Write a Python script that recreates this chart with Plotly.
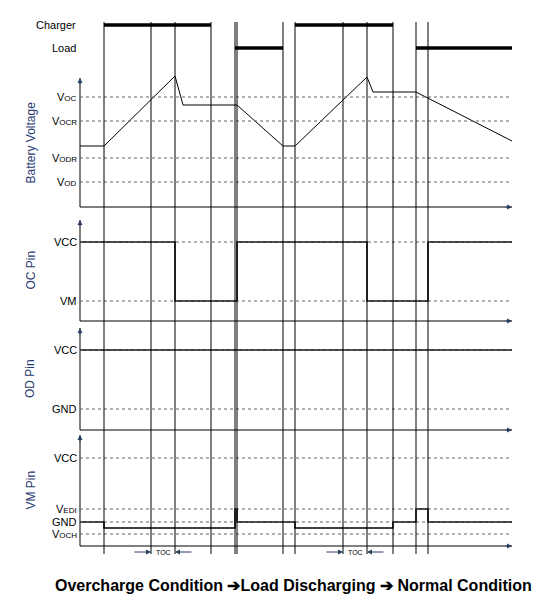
import plotly.graph_objects as go

# event times (pixel-like time axis)
edges = [104, 151, 175, 211, 235, 237, 283, 295, 343, 367, 393, 416, 428]
t_start, t_end = 80, 512

# battery voltage panel
bat_levels = {"OC": 97, "OCR": 121, "ODR": 158, "OD": 182}
bat_t = [80, 104, 175, 183, 237, 283, 295, 367, 373, 416, 512]
bat_v = [146, 146, 76, 105, 105, 146, 146, 77, 92, 92, 141]

# charger / load bars
charger_on = [(104, 211), (295, 393)]
load_on = [(235, 283), (416, 512)]

# OC pin
oc_levels = {"VCC": 242, "VM": 301}
oc_t = [80, 175, 175, 237, 237, 367, 367, 428, 428, 512]
oc_v = [242, 242, 301, 301, 242, 242, 301, 301, 242, 242]

# OD pin
od_levels = {"VCC": 350, "GND": 409}
od_t = [80, 512]
od_v = [350, 350]

# VM pin
vm_t = [80, 104, 104, 235, 235, 237, 237, 295, 295, 393, 393, 416, 416, 428, 428, 512]
vm_v = [522, 522, 528, 528, 509, 509, 522, 522, 528, 528, 522, 522, 509, 509, 522, 522]

panels = [(78, 207, "Battery Voltage"), (220, 321, "OC Pin"), (328, 430, "OD Pin"), (435, 546, "VM Pin")]

fig = go.Figure()
blk = dict(color="black", width=1)
small = lambda s: "V<span style='font-size:8px'>%s</span>" % s

for top, bot, name in panels:
    fig.add_shape(type="line", x0=t_start, x1=t_start, y0=bot, y1=top, line=blk)
    fig.add_shape(type="line", x0=t_start, x1=t_end, y0=bot, y1=bot, line=blk)
    fig.add_annotation(x=t_start, y=top, ax=t_start, ay=top + 8, axref="x", ayref="y",
                       showarrow=True, arrowhead=2, arrowsize=1, arrowwidth=1, text="")
    fig.add_annotation(x=t_end, y=bot, ax=t_end - 8, ay=bot, axref="x", ayref="y",
                       showarrow=True, arrowhead=2, arrowsize=1, arrowwidth=1, text="")
    fig.add_annotation(x=30, y=(top + bot) / 2, text=name, textangle=-90, showarrow=False,
                       font=dict(size=12, color="#1f3a70"))

def ref_lines(levels, sub=True):
    for k, y in levels.items():
        fig.add_shape(type="line", x0=t_start, x1=t_end, y0=y, y1=y,
                      line=dict(color="#666", width=1.2, dash="dot"))
        label = small(k) if sub else k
        fig.add_annotation(x=t_start - 1, y=y, text=label, showarrow=False, xanchor="right",
                           font=dict(size=11, color="black"))

ref_lines(bat_levels)
ref_lines(oc_levels, sub=False)
ref_lines(od_levels, sub=False)
ref_lines({"VCC": 458, "GND": 522}, sub=False)
ref_lines({"EDI": 509, "OCH": 534})

for x in edges:
    fig.add_shape(type="line", x0=x, x1=x, y0=22, y1=554, line=dict(color="black", width=1))

for a, b in charger_on:
    fig.add_shape(type="line", x0=a, x1=b, y0=25, y1=25, line=dict(color="black", width=3.5))
for a, b in load_on:
    fig.add_shape(type="line", x0=a, x1=b, y0=48, y1=48, line=dict(color="black", width=3.5))
fig.add_annotation(x=78, y=25, text="Charger", showarrow=False, xanchor="right", font=dict(size=11))
fig.add_annotation(x=78, y=48, text="Load", showarrow=False, xanchor="right", font=dict(size=11))

fig.add_trace(go.Scatter(x=bat_t, y=bat_v, mode="lines", line=dict(color="black", width=1)))
fig.add_trace(go.Scatter(x=oc_t, y=oc_v, mode="lines", line=dict(color="black", width=1.5)))
fig.add_trace(go.Scatter(x=od_t, y=od_v, mode="lines", line=dict(color="black", width=1.5)))
fig.add_trace(go.Scatter(x=vm_t, y=vm_v, mode="lines", line=dict(color="black", width=1.5)))

for a, b in [(151, 175), (343, 367)]:
    fig.add_annotation(x=a, y=552, ax=a - 18, ay=552, axref="x", ayref="y", text="",
                       showarrow=True, arrowhead=2, arrowsize=1, arrowwidth=1)
    fig.add_annotation(x=b, y=552, ax=b + 18, ay=552, axref="x", ayref="y", text="",
                       showarrow=True, arrowhead=2, arrowsize=1, arrowwidth=1)
    fig.add_annotation(x=(a + b) / 2, y=552, text="TOC", showarrow=False, font=dict(size=7))

fig.add_annotation(x=293, y=585, text="<b>Overcharge Condition \u2794Load Discharging \u2794 Normal Condition</b>",
                   showarrow=False, font=dict(size=16, color="black"))

# page has an 8px body margin, so offset the ranges to keep pixel alignment
fig.update_layout(
    width=545, height=611, margin=dict(l=0, r=0, t=0, b=0),
    plot_bgcolor="white", paper_bgcolor="white", showlegend=False,
    font=dict(family="Liberation Sans, Arial", color="black"),
    xaxis=dict(range=[8, 553], visible=False, fixedrange=True),
    yaxis=dict(range=[619, 8], visible=False, fixedrange=True),
)
fig.write_html("out.html")
